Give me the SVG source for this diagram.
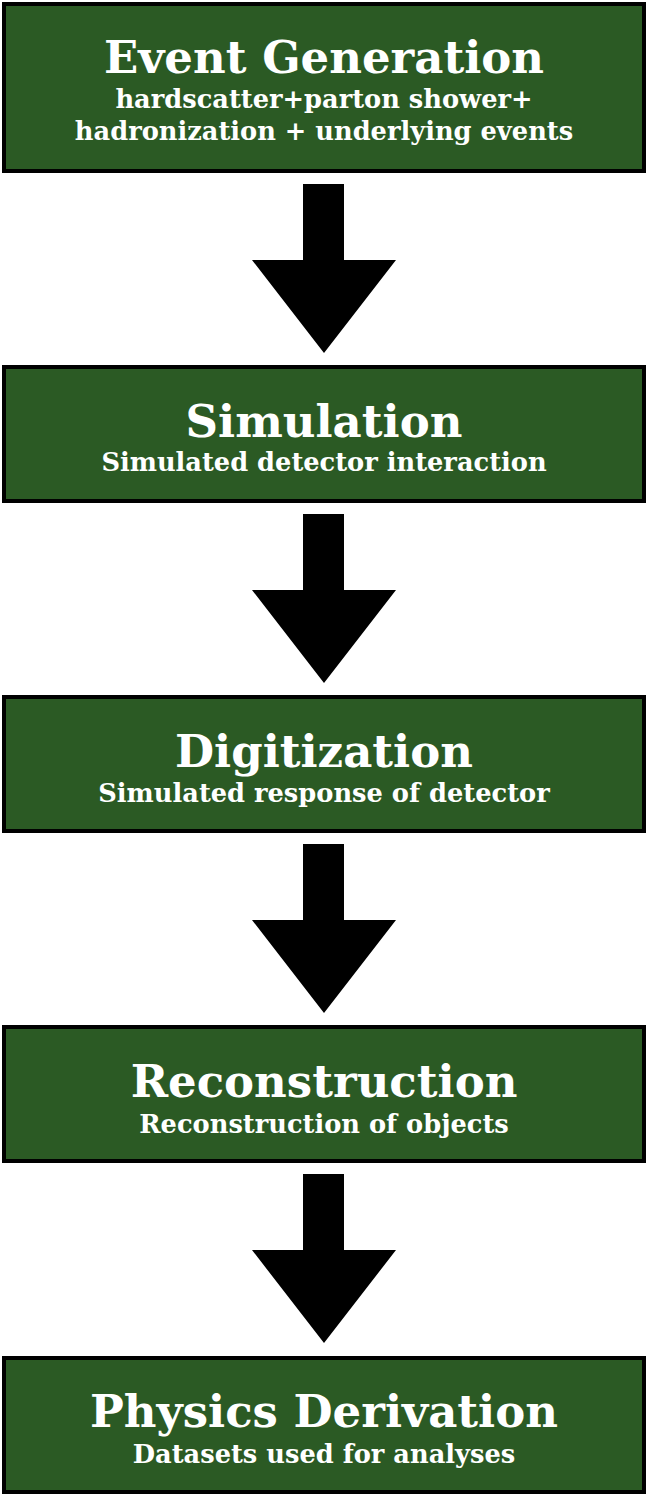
<svg xmlns="http://www.w3.org/2000/svg" width="648" height="1496" viewBox="0 0 648 1496">
  <style>
    .box { fill: #2b5a24; stroke: #000; stroke-width: 4; }
    .title { font-family: "DejaVu Serif", "Liberation Serif", serif; font-weight: bold; font-size: 45px; fill: #fff; text-anchor: middle; }
    .sub { font-family: "DejaVu Serif", "Liberation Serif", serif; font-weight: bold; font-size: 25.7px; fill: #fff; text-anchor: middle; }
    .arrow { fill: #000; }
  </style>
  <rect width="648" height="1496" fill="#fff"/>

  <g id="event-generation">
    <rect class="box" x="4" y="4" width="640" height="167"/>
    <text class="title" x="324" y="73">Event Generation</text>
    <text class="sub" x="324" y="108">hardscatter+parton shower+</text>
    <text class="sub" x="324" y="140">hadronization + underlying events</text>
  </g>

  <g id="simulation">
    <rect class="box" x="4" y="367" width="640" height="134"/>
    <text class="title" x="324" y="437">Simulation</text>
    <text class="sub" x="324" y="471">Simulated detector interaction</text>
  </g>

  <g id="digitization">
    <rect class="box" x="4" y="697" width="640" height="134"/>
    <text class="title" x="324" y="767">Digitization</text>
    <text class="sub" x="324" y="802">Simulated response of detector</text>
  </g>

  <g id="reconstruction">
    <rect class="box" x="4" y="1027" width="640" height="134"/>
    <text class="title" x="324" y="1097">Reconstruction</text>
    <text class="sub" x="324" y="1133">Reconstruction of objects</text>
  </g>

  <g id="physics-derivation">
    <rect class="box" x="4" y="1358" width="640" height="134"/>
    <text class="title" x="324" y="1427">Physics Derivation</text>
    <text class="sub" x="324" y="1463">Datasets used for analyses</text>
  </g>

  <g id="connectors">
    <path class="arrow" d="M303 184 H344 V260 H396 L324 353 L252 260 H303 Z"/>
    <path class="arrow" d="M303 514 H344 V590 H396 L324 683 L252 590 H303 Z"/>
    <path class="arrow" d="M303 844 H344 V920 H396 L324 1013 L252 920 H303 Z"/>
    <path class="arrow" d="M303 1174 H344 V1250 H396 L324 1343 L252 1250 H303 Z"/>
  </g>
</svg>
